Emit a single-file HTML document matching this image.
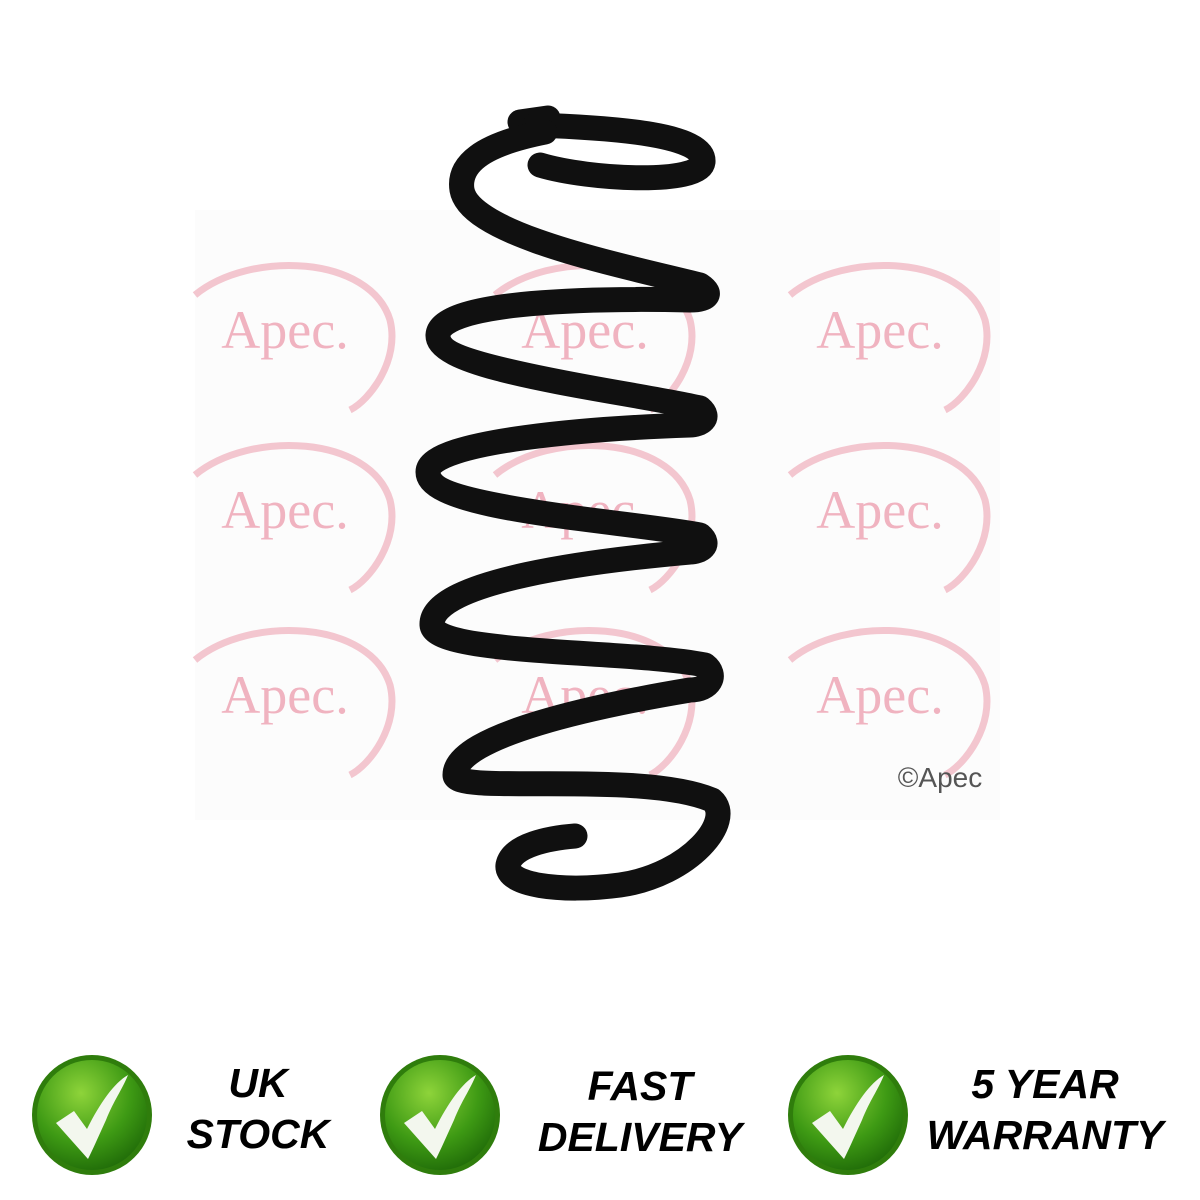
<!DOCTYPE html>
<html><head><style>
html,body{margin:0;padding:0;background:#fff;}
svg{display:block}
</style></head><body>
<svg width="1200" height="1200" viewBox="0 0 1200 1200" xmlns="http://www.w3.org/2000/svg">
<defs>
<radialGradient id="g" cx="40%" cy="30%" r="75%">
<stop offset="0" stop-color="#8ed43a"/><stop offset="0.6" stop-color="#3e9a14"/><stop offset="1" stop-color="#1f6a08"/>
</radialGradient>
<g id="wm">
<path d="M-95,-35 C-40,-80 80,-75 100,-10 C110,30 80,70 60,80" fill="none" stroke="#f3c6cf" stroke-width="7"/>
<text x="-5" y="18" text-anchor="middle" font-family="Liberation Serif,serif" font-size="54" fill="#f0b3c0">Apec.</text>
</g>
<g id="badge">
<circle r="60" fill="#2f7d0c"/>
<circle r="55" fill="url(#g)"/>
<path d="M-36,8 L-18,-4 L-5,14 C8,-12 22,-32 36,-40 C30,-25 22,-15 14,5 C8,18 2,32 -4,44 Z" fill="#f3f7ee"/>
</g>
</defs>
<rect x="195" y="210" width="805" height="610" fill="#fcfcfc"/>
<use href="#wm" x="290" y="330"/><use href="#wm" x="590" y="330"/><use href="#wm" x="885" y="330"/>
<use href="#wm" x="290" y="510"/><use href="#wm" x="590" y="510"/><use href="#wm" x="885" y="510"/>
<use href="#wm" x="290" y="695"/><use href="#wm" x="590" y="695"/><use href="#wm" x="885" y="695"/>
<text x="940" y="787" text-anchor="middle" font-family="Liberation Sans,sans-serif" font-size="28" fill="#555">©Apec</text>
<g fill="none" stroke="#101010" stroke-width="25" stroke-linecap="round" stroke-linejoin="round">
<path d="M520,122 L548,118"/>
<path d="M535,125 C620,128 705,135 703,162 C700,185 590,180 540,165"/>
<path d="M545,132 C480,145 458,165 462,190 C470,235 620,265 700,285 C715,295 705,300 690,300 C600,298 440,300 438,335 C436,370 620,390 700,408 C712,418 700,425 690,425 C600,428 428,440 428,472 C428,510 620,520 700,535 C712,545 700,552 690,552 C600,560 430,580 432,625 C434,655 630,650 705,665 C718,675 710,690 690,690 C600,705 455,735 455,775 C455,795 640,770 712,800 C735,820 690,875 620,885 C560,893 505,885 508,865 C512,845 550,838 575,836"/>
</g>
<use href="#badge" x="92" y="1115"/>
<use href="#badge" x="440" y="1115"/>
<use href="#badge" x="848" y="1115"/>
<g font-family="Liberation Sans,sans-serif" font-weight="bold" font-style="italic" font-size="41" fill="#000" text-anchor="middle">
<text x="258" y="1097">UK</text><text x="258" y="1148">STOCK</text>
<text x="640" y="1100">FAST</text><text x="640" y="1151">DELIVERY</text>
<text x="1045" y="1098">5 YEAR</text><text x="1045" y="1149">WARRANTY</text>
</g>
</svg>
</body></html>
